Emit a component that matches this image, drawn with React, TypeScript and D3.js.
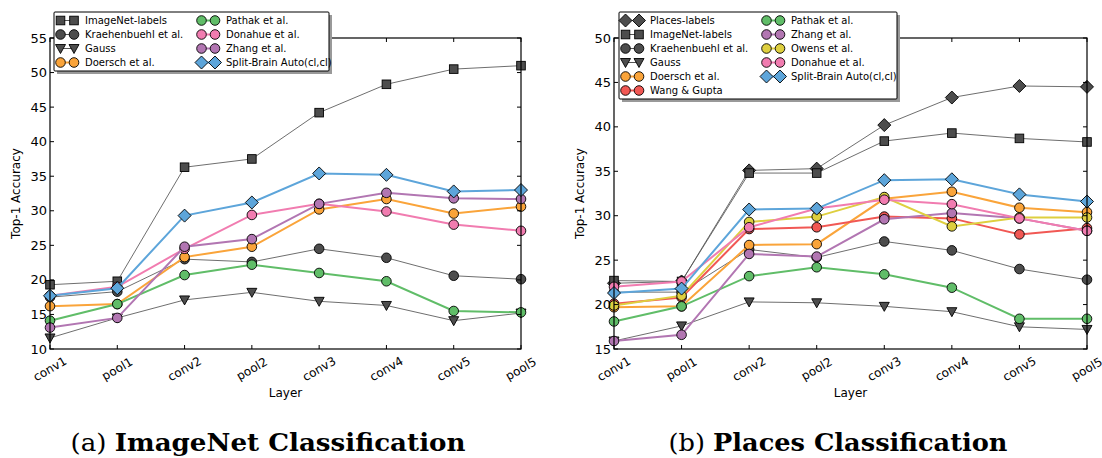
import React from 'react'
import * as d3 from 'd3'

const layers = ['conv1', 'pool1', 'conv2', 'pool2', 'conv3', 'conv4', 'conv5', 'pool5']

// (a) ImageNet classification
const inImagenetLabels = [19.3, 19.8, 36.3, 37.5, 44.2, 48.3, 50.5, 51.0]
const inKrahenbuhl = [17.5, 18.3, 23.0, 22.6, 24.5, 23.2, 20.6, 20.1]
const inGauss = [11.6, 14.5, 17.1, 18.2, 16.9, 16.3, 14.1, 15.2]
const inDoersch = [16.2, 16.5, 23.3, 24.8, 30.2, 31.7, 29.6, 30.6]
const inPathak = [14.1, 16.5, 20.7, 22.2, 21.0, 19.8, 15.5, 15.3]
const inDonahue = [17.7, 19.0, 24.5, 29.4, 31.0, 29.9, 28.0, 27.1]
const inZhang = [13.1, 14.5, 24.8, 25.9, 31.0, 32.6, 31.8, 31.7]
const inSplitBrain = [17.7, 18.8, 29.3, 31.2, 35.4, 35.2, 32.8, 33.0]

// (b) Places classification
const plPlacesLabels = [22.4, 22.6, 35.1, 35.3, 40.2, 43.3, 44.6, 44.5]
const plImagenetLabels = [22.7, 22.6, 34.8, 34.8, 38.4, 39.3, 38.7, 38.3]
const plKrahenbuhl = [21.4, 21.4, 26.2, 25.3, 27.1, 26.1, 24.0, 22.8]
const plGauss = [15.9, 17.6, 20.3, 20.2, 19.8, 19.2, 17.5, 17.2]
const plDoersch = [19.7, 19.8, 26.7, 26.8, 31.9, 32.7, 30.9, 30.4]
const plWang = [20.1, 20.8, 28.5, 28.7, 29.9, 29.7, 27.9, 28.6]
const plPathak = [18.1, 19.8, 23.2, 24.2, 23.4, 21.9, 18.4, 18.4]
const plZhang = [15.9, 16.6, 25.7, 25.4, 29.6, 30.3, 29.7, 28.3]
const plOwens = [19.9, 21.0, 29.3, 29.9, 32.1, 28.8, 29.8, 29.8]
const plDonahue = [22.0, 22.6, 28.7, 30.8, 31.8, 31.3, 29.7, 28.3]
const plSplitBrain = [21.3, 21.8, 30.7, 30.8, 34.0, 34.1, 32.4, 31.6]

const GRAY = '#4d4d4d'
const BLUE = '#5da5da'
const ORANGE = '#faa43a'
const GREEN = '#60bd68'
const PINK = '#f17cb0'
const PURPLE = '#b276b2'
const YELLOW = '#decf3f'
const RED = '#f15854'

type Shape = 'square' | 'circle' | 'triangle' | 'diamond'
type Series = { name: string, values: number[], color: string, shape: Shape }

const imagenetSeries: Series[] = [
  { name: 'ImageNet-labels', values: inImagenetLabels, color: GRAY, shape: 'square' },
  { name: 'Kraehenbuehl et al.', values: inKrahenbuhl, color: GRAY, shape: 'circle' },
  { name: 'Gauss', values: inGauss, color: GRAY, shape: 'triangle' },
  { name: 'Doersch et al.', values: inDoersch, color: ORANGE, shape: 'circle' },
  { name: 'Pathak et al.', values: inPathak, color: GREEN, shape: 'circle' },
  { name: 'Donahue et al.', values: inDonahue, color: PINK, shape: 'circle' },
  { name: 'Zhang et al.', values: inZhang, color: PURPLE, shape: 'circle' },
  { name: 'Split-Brain Auto(cl,cl)', values: inSplitBrain, color: BLUE, shape: 'diamond' }
]

const placesSeries: Series[] = [
  { name: 'Places-labels', values: plPlacesLabels, color: GRAY, shape: 'diamond' },
  { name: 'ImageNet-labels', values: plImagenetLabels, color: GRAY, shape: 'square' },
  { name: 'Kraehenbuehl et al.', values: plKrahenbuhl, color: GRAY, shape: 'circle' },
  { name: 'Gauss', values: plGauss, color: GRAY, shape: 'triangle' },
  { name: 'Doersch et al.', values: plDoersch, color: ORANGE, shape: 'circle' },
  { name: 'Wang & Gupta', values: plWang, color: RED, shape: 'circle' },
  { name: 'Pathak et al.', values: plPathak, color: GREEN, shape: 'circle' },
  { name: 'Zhang et al.', values: plZhang, color: PURPLE, shape: 'circle' },
  { name: 'Owens et al.', values: plOwens, color: YELLOW, shape: 'circle' },
  { name: 'Donahue et al.', values: plDonahue, color: PINK, shape: 'circle' },
  { name: 'Split-Brain Auto(cl,cl)', values: plSplitBrain, color: BLUE, shape: 'diamond' }
]

const FONT = 'DejaVu Sans, sans-serif'

function Marker ({ shape, x, y, color }: { shape: Shape, x: number, y: number, color: string }) {
  const common = { fill: color, stroke: '#000', strokeWidth: 0.9 }
  if (shape === 'circle') return <circle cx={x} cy={y} r={4.8} {...common} />
  if (shape === 'square') return <rect x={x - 4.3} y={y - 4.3} width={8.6} height={8.6} {...common} />
  if (shape === 'triangle') return <path d={`M${x - 5},${y - 4}L${x + 5},${y - 4}L${x},${y + 5}Z`} {...common} />
  return <path d={`M${x},${y - 6.5}L${x + 6.5},${y}L${x},${y + 6.5}L${x - 6.5},${y}Z`} {...common} />
}

function lineStyle (s: Series) {
  return s.color === GRAY
    ? { stroke: '#555', strokeWidth: 1, opacity: 0.85 }
    : { stroke: s.color, strokeWidth: 2 }
}

type PanelProps = {
  series: Series[]
  left: number
  right: number
  top: number
  bottom: number
  yDomain: [number, number]
  legend: { x: number, y: number, w: number, rows: number }
  caption: { tag: string, title: string, cx: number, width: number }
}

function Panel ({ series, left, right, top, bottom, yDomain, legend, caption }: PanelProps) {
  const x = d3.scalePoint<string>().domain(layers).range([left, right])
  const y = d3.scaleLinear().domain(yDomain).range([bottom, top])
  const yTicks = d3.range(yDomain[0], yDomain[1] + 0.1, 5)
  const line = d3.line<number>().x((d, i) => x(layers[i]) as number).y(d => y(d))
  const midX = (left + right) / 2

  return (
    <g>
      {/* series */}
      {series.map(s => (
        <g key={s.name}>
          <path d={line(s.values) as string} fill='none' {...lineStyle(s)} />
          {s.values.map((v, i) => (
            <Marker key={i} shape={s.shape} x={x(layers[i]) as number} y={y(v)} color={s.color} />
          ))}
        </g>
      ))}

      {/* frame and ticks */}
      <rect x={left} y={top} width={right - left} height={bottom - top} fill='none' stroke='#000' strokeWidth={1.2} />
      {yTicks.map(t => (
        <g key={t}>
          <line x1={left} x2={left + 4} y1={y(t)} y2={y(t)} stroke='#000' />
          <line x1={right} x2={right - 4} y1={y(t)} y2={y(t)} stroke='#000' />
          <text x={left - 3} y={y(t)} dy='0.35em' textAnchor='end' fontSize={13} fontFamily={FONT}>{t}</text>
        </g>
      ))}
      {layers.map(l => (
        <g key={l}>
          <line x1={x(l)} x2={x(l)} y1={bottom} y2={bottom - 4} stroke='#000' />
          <line x1={x(l)} x2={x(l)} y1={top} y2={top + 4} stroke='#000' />
          <text transform={`translate(${x(l)},${bottom + 20}) rotate(-30)`} textAnchor='middle'
            dominantBaseline='central' fontSize={12} fontFamily={FONT}>{l}</text>
        </g>
      ))}
      <text x={midX} y={bottom + 48} textAnchor='middle' fontSize={12} fontFamily={FONT}>Layer</text>
      <text transform={`translate(${left - 30},${(top + bottom) / 2}) rotate(-90)`} textAnchor='middle'
        fontSize={12} fontFamily={FONT}>Top-1 Accuracy</text>

      {/* legend */}
      <g>
        <rect x={legend.x + 3} y={legend.y + 3} width={legend.w} height={legend.rows * 14 + 3}
          fill='#999' />
        <rect x={legend.x} y={legend.y} width={legend.w} height={legend.rows * 14 + 3}
          fill='#fff' stroke='#000' strokeWidth={1} rx={1} />
        {series.map((s, i) => {
          const col = Math.floor(i / legend.rows)
          const row = i % legend.rows
          const bx = legend.x + col * 141
          const by = legend.y + 8.5 + row * 14
          return (
            <g key={s.name}>
              <line x1={bx + 6.5} x2={bx + 20} y1={by} y2={by} {...lineStyle(s)} opacity={1} />
              <Marker shape={s.shape} x={bx + 6.5} y={by} color={s.color} />
              <Marker shape={s.shape} x={bx + 20} y={by} color={s.color} />
              <text x={bx + 31} y={by} dy='0.35em' fontSize={10} fontFamily={FONT}>{s.name}</text>
            </g>
          )
        })}
      </g>

      {/* caption */}
      <text x={caption.cx} y={451} textAnchor='middle' fontSize={25} fontFamily='DejaVu Serif, serif'
        textLength={caption.width} lengthAdjust='spacingAndGlyphs'>
        {caption.tag}
        <tspan fontWeight='bold'>{caption.title}</tspan>
      </text>
    </g>
  )
}

export default function App () {
  return (
    <svg width={1102} height={458} style={{ position: 'absolute', left: 0, top: 0, background: '#fff' }}>
      <rect width={1102} height={458} fill='#fff' />
      <Panel
        series={imagenetSeries}
        left={50} right={521} top={38} bottom={349}
        yDomain={[10, 55]}
        legend={{ x: 54, y: 12, w: 275, rows: 4 }}
        caption={{ tag: '(a) ', title: 'ImageNet Classification', cx: 268, width: 395 }}
      />
      <Panel
        series={placesSeries}
        left={614} right={1087} top={38} bottom={349}
        yDomain={[15, 50]}
        legend={{ x: 619, y: 12, w: 278, rows: 6 }}
        caption={{ tag: '(b) ', title: 'Places Classification', cx: 838, width: 339 }}
      />
    </svg>
  )
}
